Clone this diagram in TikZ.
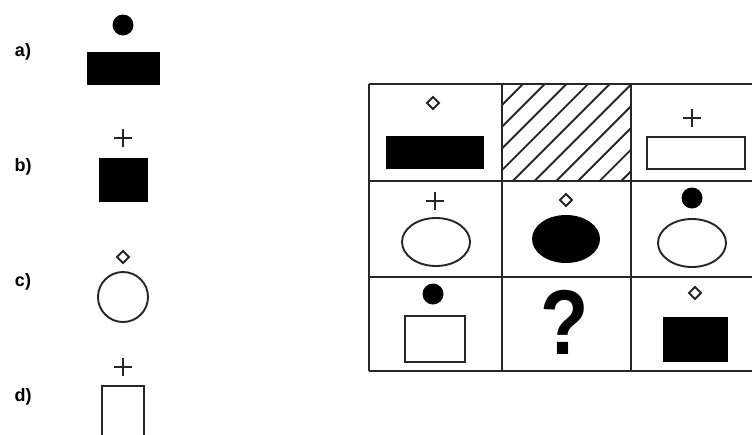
\documentclass[tikz,border=0pt]{standalone}
\usepackage{fontspec}
\setmainfont{Liberation Sans}
\tikzset{
  gridline/.style={line width=2.4pt, black!85},
  outline/.style={line width=1.9pt, black!85},
  lab/.style={font=\bfseries\fontsize{18}{18}\selectfont, inner sep=0pt},
  dia/.pic={\draw[line width=2pt, black!85] (-6,0)--(0,-6)--(6,0)--(0,6)--cycle;},
  plus/.pic={\draw[line width=2.8pt, black!85] (-9,0)--(9,0) (0,-9)--(0,9);},
  dot/.pic={\fill (0,0) circle (10.5pt);}
}
\begin{document}
\begin{tikzpicture}[x=1pt,y=-1pt]
\useasboundingbox (0,0) rectangle (752,434);
\clip (0,0) rectangle (752,434);
% options
\node[lab] (la) at (23,52) {a)};
\node[lab] (lb) at (23,167) {b)};
\node[lab] (lc) at (23,282) {c)};
\node[lab] (ld) at (23,397) {d)};
\pic at (123,25) {dot};
\fill (87,52) rectangle (160,85);
\pic at (123,138) {plus};
\fill (99,158) rectangle (148,202);
\pic at (123,257) {dia};
\draw[outline] (123,297) circle (25pt);
\pic at (123,367) {plus};
\draw[outline] (102,386) rectangle (144,440);
% grid hatch
\begin{scope}
  \clip (502,84) rectangle (631,181);
  \foreach \k in {-2,...,10} {
    \pgfmathsetmacro{\c}{607+21.7*\k}
    \draw[line width=1.9pt, black!85] (\c-200,200) -- (\c-60,60);
  }
\end{scope}
% grid lines
\draw[gridline] (369,84) -- (770,84);
\draw[gridline] (369,181) -- (770,181);
\draw[gridline] (369,277) -- (770,277);
\draw[gridline] (369,371) -- (770,371);
\draw[gridline] (369,84) -- (369,371);
\draw[gridline] (502,84) -- (502,371);
\draw[gridline] (631,84) -- (631,371);
\draw[gridline] (761,84) -- (761,371);
% row 1
\pic at (433,103) {dia};
\fill (386,136) rectangle (484,169);
\pic at (692,118) {plus};
\draw[outline] (647,137) rectangle (745,169);
% row 2
\pic at (435,201) {plus};
\draw[outline] (436,242) ellipse [x radius=34pt, y radius=24pt];
\pic at (566,200) {dia};
\fill (566,239) ellipse [x radius=34pt, y radius=24pt];
\pic at (692,198) {dot};
\draw[outline] (692,243) ellipse [x radius=34pt, y radius=24pt];
% row 3
\pic at (433,294) {dot};
\draw[outline] (405,316) rectangle (465,362);
\node[font=\bfseries\fontsize{92}{92}\selectfont, xscale=0.86, inner sep=0pt] (q) at (565,322) {?};
\pic at (695,293) {dia};
\fill (663,317) rectangle (728,362);
\end{tikzpicture}
\end{document}
